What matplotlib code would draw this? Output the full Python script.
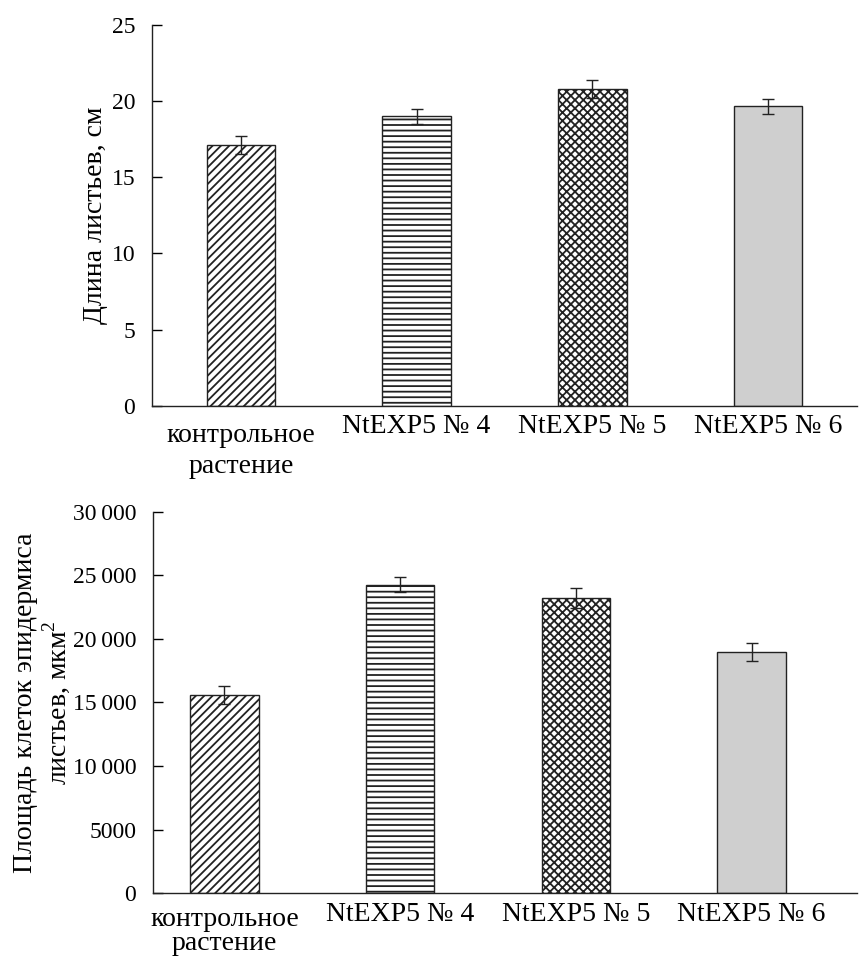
#!/usr/bin/env python3
import matplotlib
matplotlib.use("Agg")
import matplotlib.pyplot as plt
import matplotlib.transforms as mtransforms
import numpy as np

plt.rcParams["font.family"] = ["Liberation Serif", "DejaVu Serif"]
plt.rcParams["hatch.linewidth"] = 1.3
plt.rcParams["mathtext.fontset"] = "custom"
plt.rcParams["mathtext.rm"] = "Liberation Serif"

categories = ["контрольное\nрастение", "NtEXP5 № 4", "NtEXP5 № 5", "NtEXP5 № 6"]

# leaf length, cm
leaf_len = [17.1, 19.0, 20.8, 19.65]
leaf_len_err = [0.6, 0.5, 0.6, 0.5]
len_ticks = [0, 5, 10, 15, 20, 25]
len_tick_labels = ["0", "5", "10", "15", "20", "25"]

# epidermal cell area, um^2
cell_area = [15600, 24250, 23200, 18950]
cell_area_err = [700, 600, 800, 700]
area_ticks = [0, 5000, 10000, 15000, 20000, 25000, 30000]
area_tick_labels = ["0", "5000", "10\u2009000", "15\u2009000", "20\u2009000", "25\u2009000", "30\u2009000"]

HATCHES = ["////", "---", "xxxx", ""]
FACES = ["white", "white", "white", "#cfcfcf"]
FS_LABEL = 20
FS_TICK = 17


def draw_panel(ax, values, errs, ticks, tick_labels, ylabel, xlim, xpad, ctrl_shift, lsp):
    x = np.arange(len(values))
    bars = ax.bar(x, values, width=0.39, color=FACES, edgecolor="#222222", linewidth=1.0, zorder=2)
    for b, h in zip(bars, HATCHES):
        b.set_hatch(h)
    ax.errorbar(x, values, yerr=errs, fmt="none", ecolor="#222222", elinewidth=1.0,
                capsize=4, capthick=1.0, zorder=3)

    ax.set_xlim(*xlim)
    ax.set_ylim(ticks[0], ticks[-1])
    ax.set_yticks(ticks)
    ax.set_yticklabels(tick_labels)
    ax.set_xticks(x)
    ax.set_xticklabels(categories, linespacing=lsp)
    ax.tick_params(axis="x", length=0, pad=xpad, labelsize=FS_LABEL)
    ax.tick_params(axis="y", direction="in", length=7, width=1.0, pad=12, labelsize=FS_TICK)
    for side in ("top", "right"):
        ax.spines[side].set_visible(False)
    for side in ("left", "bottom"):
        ax.spines[side].set_linewidth(1.0)
        ax.spines[side].set_color("#222222")

    # control label sits a little lower than the others
    lab = ax.get_xticklabels()[0]
    off = mtransforms.ScaledTranslation(0, -ctrl_shift / 100.0, ax.figure.dpi_scale_trans)
    lab.set_transform(lab.get_transform() + off)

    ax.set_ylabel(ylabel, fontsize=FS_LABEL, linespacing=1.1)


fig = plt.figure(figsize=(8.62, 9.6), dpi=100)
ax1 = fig.add_axes([0.1763, 0.5774, 0.8179, 0.3966])
ax2 = fig.add_axes([0.1775, 0.0695, 0.8167, 0.3975])

draw_panel(ax1, leaf_len, leaf_len_err, len_ticks, len_tick_labels,
           "Длина листьев, см", (-0.506, 3.506), 6.0, 9, 1.3)
draw_panel(ax2, cell_area, cell_area_err, area_ticks, area_tick_labels,
           "Площадь клеток эпидермиса\nлистьев, мкм$^2$", (-0.406, 3.6), 6.0, 5, 0.95)

ax1.yaxis.set_label_coords(-0.062, 0.5)
ax2.yaxis.set_label_coords(-0.115, 0.5)

fig.savefig("out.png", dpi=100)
